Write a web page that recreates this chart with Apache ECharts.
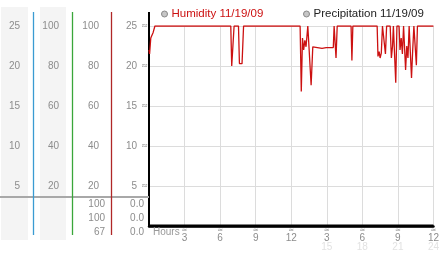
<!DOCTYPE html>
<html><head><meta charset="utf-8">
<script src="https://cdn.jsdelivr.net/npm/echarts@6/dist/echarts.min.js"></script>
<style>html,body{margin:0;padding:0;background:#fff}#c{width:442px;height:253px}</style>
</head><body><div id="c"></div>
<script>
// ---- data ----
var humidityHours = [0.00,0.05,0.10,0.15,0.30,0.35,0.45,0.50,6.90,6.98,7.10,7.18,7.55,7.63,7.85,7.98,
  12.75,12.85,12.95,13.05,13.15,13.25,13.40,13.55,13.68,13.82,13.95,14.60,14.95,15.55,15.62,15.70,15.78,15.88,
  17.05,17.12,17.20,19.25,19.32,19.42,19.50,19.60,19.70,19.85,19.95,20.05,20.35,20.45,20.55,20.62,20.75,20.82,20.92,
  21.10,21.18,21.28,21.38,21.48,21.60,21.65,21.75,21.85,21.95,22.05,22.15,22.25,22.35,22.48,22.56,22.65,24.00];
var humidityValues = [22.0,21.5,22.5,23.5,23.6,24.2,24.3,25,25,20.0,20.2,25,25,20.3,20.3,25,
  25,16.8,23.5,22.0,23.2,22.4,25,25,17.6,22.4,22.2,22.2,22.3,22.3,25,25,21.0,25,
  25,20.7,25,25,21.2,21.8,21.0,21.6,25,25,21.5,25,25,21.0,22.5,25,25,17.9,25,
  25,22.0,23.5,21.5,25,25,19.5,22.5,21.0,25,25,18.5,22.0,25,25,20.1,25,25];
var precipHours = [0, 24];
var precipValues = [0, 0];
var seriesNames = ['Humidity 11/19/09', 'Precipitation 11/19/09'];
var xTickLabels = ['3','6','9','12','3','6','9','12'];
var xFaintLabels = ['','','','','15','18','21','24'];
var tableCol3 = ['100','100','67'];
var tableCol4 = ['0.0','0.0','0.0'];

var FONT = '"Liberation Sans", Arial, sans-serif';
var GRAY = '#8c8c8c';
function zip(a,b){return a.map(function(v,i){return [v,b[i]];});}

var chart = echarts.init(document.getElementById('c'), null, {renderer:'canvas'});
var graphics = [
  {type:'rect', z:-5, shape:{x:1,y:7,width:27,height:233}, style:{fill:'#f4f4f4'}},
  {type:'rect', z:-5, shape:{x:40,y:7,width:26,height:233}, style:{fill:'#f4f4f4'}},
  {type:'line', z:5, shape:{x1:0,y1:197,x2:149,y2:197}, style:{stroke:'#a8a8a8',lineWidth:2}},
  {type:'line', z:6, shape:{x1:33.5,y1:12,x2:33.5,y2:235}, style:{stroke:'#3a9bd2',lineWidth:1.3}},
  {type:'line', z:6, shape:{x1:72.5,y1:12,x2:72.5,y2:235}, style:{stroke:'#3aa63a',lineWidth:1.3}},
  {type:'line', z:6, shape:{x1:111.5,y1:12,x2:111.5,y2:235}, style:{stroke:'#b02828',lineWidth:1.3}},
  {type:'line', z:6, shape:{x1:149,y1:12,x2:149,y2:27}, style:{stroke:'#000',lineWidth:2}},
  {type:'text', z:6, left:153, top:227, style:{text:'Hours', fill:'#999', font:'10px '+FONT}}
];
tableCol3.forEach(function(t,i){
  graphics.push({type:'text', z:6, style:{text:t, x:105, y:204+i*14.3, align:'right', verticalAlign:'middle', fill:GRAY, font:'10px '+FONT}});
});
tableCol4.forEach(function(t,i){
  graphics.push({type:'text', z:6, style:{text:t, x:144, y:204+i*14.3, align:'right', verticalAlign:'middle', fill:GRAY, font:'10px '+FONT}});
});

function sideAxis(max, interval, offset, margin, fmt, size, color, family){
  return {type:'value', gridIndex:0, position:'left', min:0, max:max, interval:interval, offset:offset,
    axisLine:{show:false}, axisTick:{show:false}, splitLine:{show:false},
    axisLabel:{margin:margin, showMinLabel:false, color:color||GRAY, fontFamily:family||FONT, fontSize:size||10,
      formatter:fmt}};
}

chart.setOption({
  animation:false,
  textStyle:{fontFamily:FONT},
  legend:[
    {left:156, top:3, itemWidth:6, itemHeight:6, icon:'circle', selectedMode:false,
     textStyle:{fontSize:11.5, color:'#cc1111', fontFamily:FONT, padding:[0,0,0,-1]},
     itemStyle:{color:'#c6c6c6', borderColor:'#888', borderWidth:1},
     data:[{name:seriesNames[0]}]},
    {left:298, top:3, itemWidth:6, itemHeight:6, icon:'circle', selectedMode:false,
     textStyle:{fontSize:11.5, color:'#222', fontFamily:FONT, padding:[0,0,0,-1]},
     itemStyle:{color:'#c6c6c6', borderColor:'#888', borderWidth:1},
     data:[{name:seriesNames[1]}]}
  ],
  grid:{left:149, right:3, top:26, bottom:27, containLabel:false},
  xAxis:{type:'value', min:0, max:24, interval:3,
    axisLine:{lineStyle:{color:'#000', width:2.5}},
    axisTick:{show:false},
    splitLine:{lineStyle:{color:'#dcdcdc', width:1}},
    axisLabel:{margin:1, showMinLabel:false, showMaxLabel:true, hideOverlap:false,
      formatter:function(v){
        if(v===0) return '';
        var i = Math.round(v/3)-1;
        return '{m|≈}\n{v|'+xTickLabels[i]+'}\n{f|'+(xFaintLabels[i]||' ')+'}';
      },
      rich:{
        m:{fontSize:7, lineHeight:7, color:'#9a9a9a', fontFamily:'DejaVu Sans'},
        v:{fontSize:10, lineHeight:9, color:GRAY, fontFamily:FONT},
        f:{fontSize:10, lineHeight:9, color:'#e2e2e2', fontFamily:FONT}
      }}
  },
  yAxis:[
    {type:'value', min:0, max:25, interval:5, position:'left',
     axisLine:{show:true, lineStyle:{color:'#000', width:2}},
     axisTick:{show:false},
     splitLine:{lineStyle:{color:'#dcdcdc', width:1}},
     axisLabel:{margin:12, showMinLabel:false, color:GRAY, fontFamily:FONT, fontSize:10}},
    sideAxis(25, 5, 0, 1, function(){return '≈';}, 8, '#8a8a8a', 'DejaVu Sans'),
    sideAxis(100, 20, 50, 0),
    sideAxis(100, 20, 90, 0),
    sideAxis(25, 5, 129, 0)
  ],
  series:[
    {name:seriesNames[0], type:'line', yAxisIndex:0, showSymbol:false, z:4,
     lineStyle:{color:'#cc1111', width:1.3}, itemStyle:{color:'#cc1111'},
     data:zip(humidityHours, humidityValues)},
    {name:seriesNames[1], type:'line', yAxisIndex:0, showSymbol:false, z:3,
     lineStyle:{color:'#000', width:3}, itemStyle:{color:'#000'},
     data:zip(precipHours, precipValues)}
  ],
  graphic:graphics
});
</script>
</body></html>
